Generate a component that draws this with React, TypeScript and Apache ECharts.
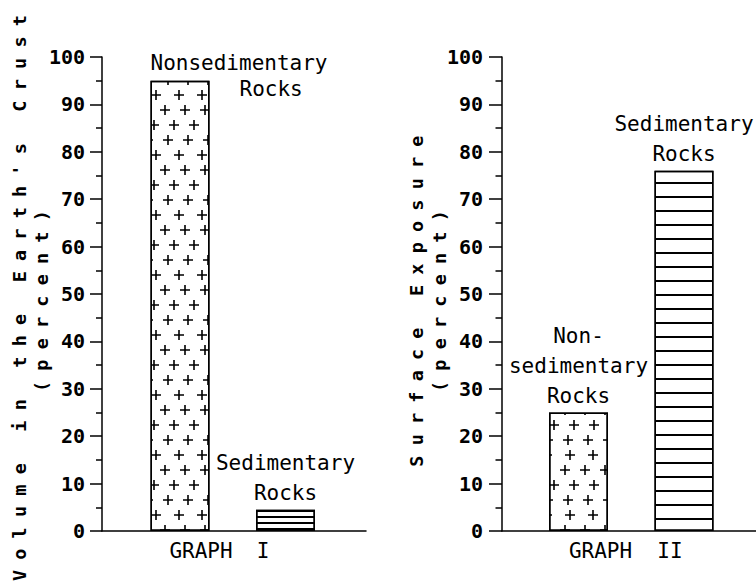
import React, { useEffect, useRef } from "react";
import * as echarts from "echarts";

// ---- data ----
const graph1Categories = ["Nonsedimentary Rocks", "Sedimentary Rocks"];
const graph1Values = [95, 4.5];
const graph1Labels = ["Nonsedimentary\n{r|Rocks}", "Sedimentary\nRocks"];

const graph2Categories = ["Nonsedimentary Rocks", "Sedimentary Rocks"];
const graph2Values = [25, 76];
const graph2Labels = ["Non-\nsedimentary\nRocks", "Sedimentary\nRocks"];

const yMin = 0;
const yMax = 100;
const yStep = 10;

const graph1Title = ["Volume in the Earth's Crust", "(percent)"];
const graph2Title = ["Surface Exposure", "(percent)"];
const graph1Name = ["GRAPH", "I"];
const graph2Name = ["GRAPH", "II"];

const MONO = "'DejaVu Sans Mono', monospace";

const plusDecal = {
  symbol: "path://M0,4.2H10V5.8H0ZM4.2,0H5.8V10H4.2Z",
  symbolSize: 1,
  symbolKeepAspect: true,
  color: "#000",
  backgroundColor: "#fff",
  dashArrayX: [[10, 10], [0, 9, 10, 1], [0, 3, 10, 7], [0, 13, 10, 0]],
  dashArrayY: [10, 5],
};
const fineLineDecal = {
  symbol: "rect",
  symbolSize: 1,
  symbolKeepAspect: false,
  color: "#000",
  backgroundColor: "#fff",
  dashArrayX: [20, 0],
  dashArrayY: [1.3, 3.7],
};
const wideLineDecal = {
  symbol: "rect",
  symbolSize: 1,
  symbolKeepAspect: false,
  color: "#000",
  backgroundColor: "#fff",
  dashArrayX: [20, 0],
  dashArrayY: [2, 11.3],
};

const axisLineStyle = { color: "#000", width: 1.5 };

function visibleAxes(grid: number, tickLen: number, margin: number) {
  return {
    x: {
      gridIndex: grid,
      type: "value",
      min: 0,
      max: 1,
      axisLine: { show: true, onZero: false, lineStyle: axisLineStyle },
      axisTick: { show: false },
      axisLabel: { show: false },
      splitLine: { show: false },
    },
    y: {
      gridIndex: grid,
      type: "value",
      min: yMin,
      max: yMax,
      interval: yStep,
      axisLine: { show: true, lineStyle: axisLineStyle },
      axisTick: { show: true, length: tickLen, lineStyle: axisLineStyle },
      minorTick: { show: true, splitNumber: 2, length: tickLen / 2, lineStyle: axisLineStyle },
      axisLabel: {
        margin,
        fontFamily: MONO,
        fontWeight: "bold",
        fontSize: 20,
        color: "#000",
      },
      splitLine: { show: false },
      minorSplitLine: { show: false },
    },
  };
}

function hiddenAxes(grid: number, cats: string[]) {
  return {
    x: { gridIndex: grid, type: "category", data: cats, show: false },
    y: { gridIndex: grid, type: "value", min: yMin, max: yMax, show: false },
  };
}

const baseLabel = {
  show: true,
  position: "top",
  distance: 2,
  fontFamily: MONO,
  fontSize: 21,
  lineHeight: 30,
  color: "#000",
  align: "center",
};

export default function App() {
  const ref = useRef<HTMLDivElement>(null);
  useEffect(() => {
    if (!ref.current) return;
    const chart = echarts.init(ref.current, null, { renderer: "svg" });
    const v1 = visibleAxes(0, 12, 17);
    const h1 = hiddenAxes(1, graph1Categories);
    const v2 = visibleAxes(2, 13, 19);
    const h2 = hiddenAxes(3, graph2Categories);

    const titleText = (text: string, x: number, y: number) => ({
      type: "text",
      x,
      y,
      rotation: Math.PI / 2,
      style: {
        text,
        fill: "#000",
        fontFamily: MONO,
        fontWeight: "bold",
        fontSize: 18.5,
        textAlign: "center",
        textVerticalAlign: "middle",
      },
    });
    const nameText = (text: string, x: number) => ({
      type: "text",
      x,
      y: 551,
      style: {
        text,
        fill: "#000",
        fontFamily: MONO,
        fontSize: 21,
        textAlign: "center",
        textVerticalAlign: "middle",
      },
    });

    chart.setOption({
      animation: false,
      backgroundColor: "#fff",
      grid: [
        { left: 102, top: 57, width: 264, height: 474, outerBoundsMode: "none" },
        { left: 127.25, top: 57, width: 211, height: 474, outerBoundsMode: "none" },
        { left: 502, top: 57, width: 270, height: 474, outerBoundsMode: "none" },
        { left: 525.75, top: 57, width: 211, height: 474, outerBoundsMode: "none" },
      ],
      xAxis: [v1.x, h1.x, v2.x, h2.x],
      yAxis: [v1.y, h1.y, v2.y, h2.y],
      series: [
        {
          type: "bar",
          xAxisIndex: 1,
          yAxisIndex: 1,
          barWidth: 59,
          itemStyle: { color: "#fff", borderColor: "#000", borderWidth: 1.5 },
          label: { ...baseLabel, formatter: (p: any) => graph1Labels[p.dataIndex] },
          data: graph1Values.map((v, i) => ({
            value: v,
            itemStyle: { decal: i === 0 ? plusDecal : fineLineDecal },
            label:
              i === 0
                ? {
                    position: [0, -31],
                    align: "left",
                    verticalAlign: "top",
                    lineHeight: 26,
                    rich: {
                      r: {
                        padding: [0, 0, 0, 89],
                        fontFamily: MONO,
                        fontSize: 21,
                        lineHeight: 26,
                        color: "#000",
                      },
                    },
                  }
                : {},
          })),
        },
        {
          type: "bar",
          xAxisIndex: 3,
          yAxisIndex: 3,
          barWidth: 59,
          itemStyle: { color: "#fff", borderColor: "#000", borderWidth: 1.5 },
          label: { ...baseLabel, formatter: (p: any) => graph2Labels[p.dataIndex] },
          data: graph2Values.map((v, i) => ({
            value: v,
            itemStyle: { decal: i === 0 ? plusDecal : wideLineDecal },
          })),
        },
      ],
      graphic: [
        titleText(graph1Title[0], 19, 293),
        titleText(graph1Title[1], 41, 296),
        titleText(graph2Title[0], 416, 296),
        titleText(graph2Title[1], 439, 296),
        nameText(graph1Name[0], 201),
        nameText(graph1Name[1], 263),
        nameText(graph2Name[0], 600.5),
        nameText(graph2Name[1], 670),
      ],
    });

    const spaced = [...graph1Title, ...graph2Title];
    ref.current.querySelectorAll("text").forEach((t) => {
      if (spaced.includes(t.textContent || "")) {
        (t as SVGTextElement).style.letterSpacing = "10.2px";
      }
    });

    return () => chart.dispose();
  }, []);
  return (
    <div
      ref={ref}
      style={{ position: "absolute", left: 0, top: 0, width: 756, height: 582 }}
    />
  );
}
